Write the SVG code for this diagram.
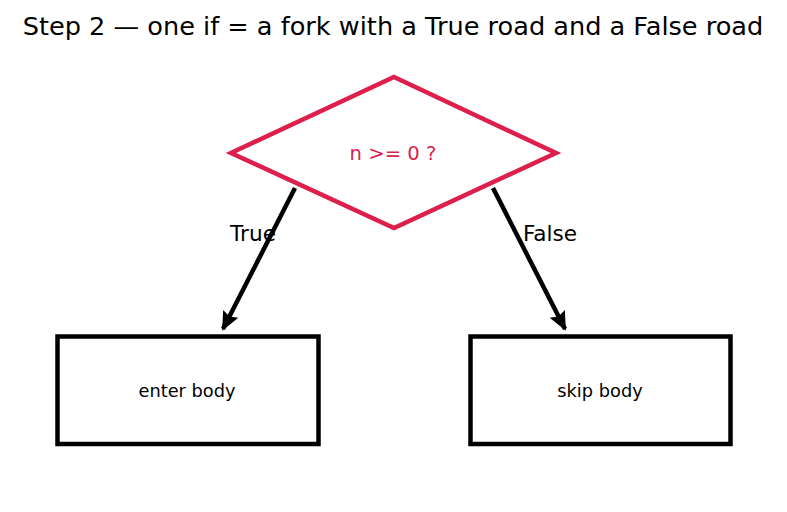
<svg xmlns="http://www.w3.org/2000/svg" width="787" height="512" viewBox="0 0 787 512">
<style>
text{font-family:"DejaVu Sans",sans-serif;text-anchor:middle;dominant-baseline:central}
.box{fill:#fff;stroke:#000;stroke-width:4.5}
.edge{stroke:#000;stroke-width:4.5;fill:none}
</style>
<defs>
<marker id="ah" viewBox="0 0 10 10" refX="9" refY="5" markerWidth="4.2" markerHeight="4.2" orient="auto" markerUnits="strokeWidth">
<path d="M0,0.5 L10,5 L0,9.5 L1.5,5 Z" fill="#000"/>
</marker>
</defs>
<rect width="787" height="512" fill="#fff"/>
<text x="393" y="26" font-size="25.6">Step 2 — one if = a fork with a True road and a False road</text>
<g id="decision">
<polygon points="394,77 556,153 394,228 231,153" fill="#fff" stroke="#dc1f4b" stroke-width="4.5"/>
<text x="393" y="153" font-size="19.6" fill="#dc1f4b">n &gt;= 0 ?</text>
</g>
<g id="enter">
<rect class="box" x="57.5" y="336.5" width="261" height="107.5"/>
<text x="187" y="390" font-size="17.8">enter body</text>
</g>
<g id="skip">
<rect class="box" x="470.5" y="336.5" width="260" height="107.5"/>
<text x="600" y="390" font-size="17.8">skip body</text>
</g>
<g id="connectors">
<line class="edge" x1="295" y1="188" x2="223" y2="329" marker-end="url(#ah)"/>
<line class="edge" x1="493" y1="188" x2="565" y2="329" marker-end="url(#ah)"/>
<text x="253" y="233" font-size="21.6">True</text>
<text x="550" y="233" font-size="21.6">False</text>
</g>
</svg>
